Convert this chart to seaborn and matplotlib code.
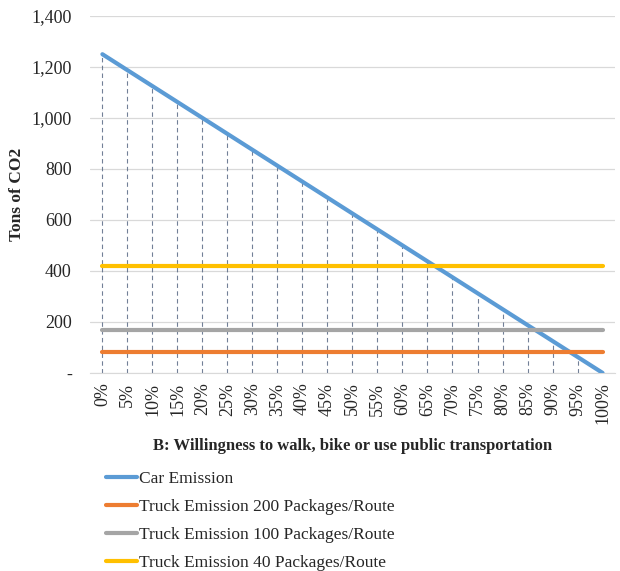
import numpy as np
import pandas as pd
import matplotlib
matplotlib.use("Agg")
import matplotlib.pyplot as plt
import seaborn as sns

# ── Data ──────────────────────────────────────────────────────────────────
share_labels = ["0%", "5%", "10%", "15%", "20%", "25%", "30%", "35%", "40%", "45%",
                "50%", "55%", "60%", "65%", "70%", "75%", "80%", "85%", "90%", "95%", "100%"]
car_emission = [1250, 1187.5, 1125, 1062.5, 1000, 937.5, 875, 812.5, 750, 687.5,
                625, 562.5, 500, 437.5, 375, 312.5, 250, 187.5, 125, 62.5, 0]
truck_200 = [82] * 21
truck_100 = [167] * 21
truck_40 = [421] * 21

series_names = ["Car Emission",
                "Truck Emission 200 Packages/Route",
                "Truck Emission 100 Packages/Route",
                "Truck Emission 40 Packages/Route"]
y_ticks = [0, 200, 400, 600, 800, 1000, 1200, 1400]
y_ticklabels = ["-", "200", "400", "600", "800", "1,000", "1,200", "1,400"]

COLORS = ["#5B9BD5", "#ED7D31", "#A5A5A5", "#FFC000"]

pos = np.arange(len(share_labels))
df = pd.DataFrame({
    "pos": np.tile(pos, 4),
    "value": car_emission + truck_200 + truck_100 + truck_40,
    "series": np.repeat(series_names, len(pos)),
})

# ── Plot ──────────────────────────────────────────────────────────────────
sns.set_style("white")
plt.rcParams["font.family"] = ["Liberation Serif", "DejaVu Serif"]

fig = plt.figure(figsize=(6.2, 5.71), dpi=100)
ax = fig.add_axes([0.145, 0.347, 0.847, 0.625])

# drop lines from the car line down to the axis
ax.vlines(pos, 0, car_emission, colors="#596A85", linestyles=(0, (4, 3)),
          linewidth=0.8, alpha=0.85, zorder=1)

sns.lineplot(data=df, x="pos", y="value", hue="series", hue_order=series_names,
             palette=COLORS, linewidth=3, ax=ax, zorder=3)

ax.set_xlim(-0.5, len(pos) - 0.5)
ax.set_ylim(0, 1400)
ax.set_yticks(y_ticks)
ax.set_yticklabels(y_ticklabels, fontsize=13)
ax.set_xticks(pos)
ax.set_xticklabels(share_labels, rotation=90, fontsize=13)
ax.tick_params(axis="y", length=0, pad=13)
ax.tick_params(axis="x", length=0, pad=7)
ax.grid(axis="y", color="#D9D9D9", linewidth=0.9)
ax.set_axisbelow(True)
for side in ["top", "right", "left"]:
    ax.spines[side].set_visible(False)
ax.spines["bottom"].set_color("#D9D9D9")

ax.set_ylabel("Tons of CO2", fontsize=12.5, fontweight="bold", labelpad=5)
ax.set_xlabel("B: Willingness to walk, bike or use public transportation",
              fontsize=12, fontweight="bold", labelpad=10)

ax.legend(loc="upper left", bbox_to_anchor=(0.0, -0.232), frameon=False,
          fontsize=12.5, handlelength=1.8, handletextpad=0.1, labelspacing=0.68)

plt.savefig("out.png", dpi=100)
